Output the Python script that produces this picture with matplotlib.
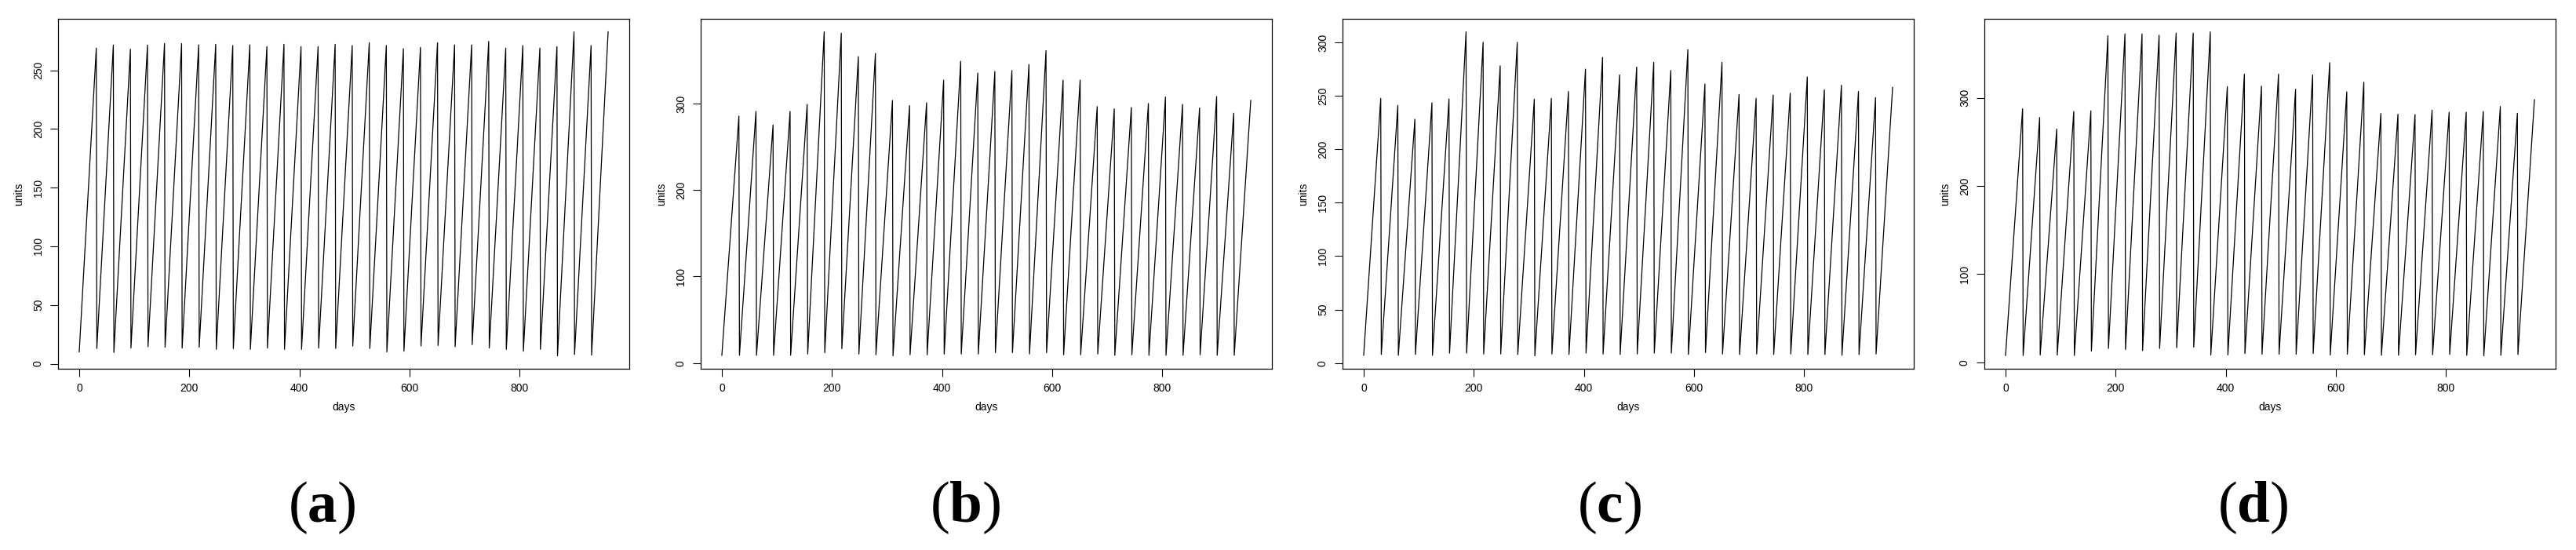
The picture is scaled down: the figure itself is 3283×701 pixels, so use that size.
import matplotlib
matplotlib.use("Agg")
import matplotlib.pyplot as plt
import numpy as np

plt.rcParams['font.family'] = ['Liberation Sans Narrow', 'Liberation Sans', 'DejaVu Sans']
plt.rcParams['mathtext.fontset'] = 'custom'
plt.rcParams['mathtext.rm'] = 'Liberation Serif'
plt.rcParams['mathtext.bf'] = 'Liberation Serif:bold'

# day of each peak (last day of each order cycle)
peak_days = [31, 62, 93, 124, 155, 186, 217, 248, 279, 310, 341, 372, 403, 434, 465, 496,
             527, 558, 589, 620, 651, 682, 713, 744, 775, 806, 837, 868, 899, 930, 961]
# first day of each cycle
start_days = [0, 32, 63, 94, 125, 156, 187, 218, 249, 280, 311, 342, 373, 404, 435, 466,
              497, 528, 559, 590, 621, 652, 683, 714, 745, 776, 807, 838, 869, 900, 931]

peaks_a = [268.9, 271.5, 268.0, 271.5, 272.8, 272.8, 271.7, 272.2, 271.1, 271.7, 270.2,
           272.2, 270.2, 270.2, 272.2, 271.1, 273.5, 271.1, 268.4, 269.5, 273.5, 271.7,
           271.7, 274.6, 268.9, 271.1, 268.9, 270.2, 282.8, 271.1, 282.8]
troughs_a = [10.0, 12.9, 9.5, 13.3, 14.4, 14.0, 13.3, 14.0, 12.2, 12.9, 12.2, 13.3, 12.2,
             12.2, 13.3, 12.9, 15.0, 12.9, 10.0, 10.6, 15.0, 15.5, 14.4, 16.2, 13.3, 12.2,
             10.6, 12.2, 6.7, 7.8, 7.3]

peaks_b = [285.5, 290.9, 275.2, 290.9, 299.0, 382.9, 381.4, 354.2, 357.9, 303.6, 297.6,
           300.9, 327.1, 348.8, 335.2, 337.0, 338.2, 345.2, 361.2, 327.1, 327.1, 296.4,
           293.9, 295.4, 300.0, 307.5, 299.0, 294.8, 308.1, 288.8, 303.6]
troughs_b = [9.0, 9.0, 9.0, 9.0, 9.0, 10.5, 12.0, 16.6, 10.5, 9.6, 8.4, 9.6, 9.6, 10.5,
             10.5, 10.5, 12.0, 12.0, 10.5, 12.0, 9.6, 9.6, 10.5, 9.0, 9.6, 9.0, 9.0, 9.0,
             9.6, 9.0, 9.0]

peaks_c = [247.6, 241.0, 228.0, 243.4, 247.0, 309.8, 300.0, 278.0, 300.0, 246.8, 247.6,
           254.0, 274.9, 285.9, 269.5, 276.8, 281.2, 273.7, 293.2, 261.0, 281.2, 251.2,
           247.6, 250.7, 252.4, 267.6, 255.6, 259.8, 254.0, 248.3, 257.8]
troughs_c = [7.3, 8.0, 7.3, 8.0, 7.3, 9.3, 9.3, 8.5, 8.5, 8.0, 6.8, 8.5, 8.0, 9.3, 8.5,
             8.0, 8.5, 9.3, 9.3, 8.0, 9.8, 8.5, 8.0, 8.5, 8.0, 8.5, 8.0, 8.0, 7.3, 8.0, 8.5]

peaks_d = [287.6, 277.8, 264.5, 284.6, 285.2, 370.4, 372.5, 372.5, 371.0, 373.4, 373.4,
           374.9, 312.7, 326.9, 313.3, 326.9, 309.8, 326.0, 339.9, 306.8, 317.8, 282.2,
           281.4, 281.1, 286.1, 283.7, 283.7, 284.6, 290.2, 282.5, 297.9]
troughs_d = [7.7, 7.7, 8.3, 8.3, 7.7, 12.7, 15.7, 14.5, 13.3, 15.7, 16.6, 17.2, 8.3, 8.3,
             10.0, 9.2, 9.2, 9.2, 10.0, 8.3, 9.2, 8.6, 8.0, 8.0, 8.6, 8.6, 8.9, 8.0, 7.4,
             8.0, 8.9]

panels = [
    ('a', peaks_a, troughs_a, [0, 50, 100, 150, 200, 250]),
    ('b', peaks_b, troughs_b, [0, 100, 200, 300]),
    ('c', peaks_c, troughs_c, [0, 50, 100, 150, 200, 250, 300]),
    ('d', peaks_d, troughs_d, [0, 100, 200, 300]),
]
x_ticks = [0, 200, 400, 600, 800]

W, H = 3283, 701
fig = plt.figure(figsize=(W / 100, H / 100), dpi=100)

box_left = [74, 893, 1711, 2529]
box_w = 728
box_top, box_bottom = 24, 470

for i, (tag, peaks, troughs, yt) in enumerate(panels):
    ax = fig.add_axes([box_left[i] / W, (H - box_bottom) / H, box_w / W, (box_bottom - box_top) / H])
    xs, ys = [], []
    for s, p, lo, hi in zip(start_days, peak_days, troughs, peaks):
        xs += [s, p]
        ys += [lo, hi]
    ax.plot(xs, ys, color='black', lw=0.9)
    ax.margins(x=0.04, y=0.04)
    ax.set_xticks(x_ticks)
    ax.set_yticks(yt)
    ax.tick_params(axis='both', length=7, width=0.8, labelsize=10, pad=6)
    for lab in ax.get_yticklabels():
        lab.set_rotation(90)
        lab.set_va('center')
    for sp in ax.spines.values():
        sp.set_linewidth(0.9)

    x0 = box_left[i]
    fig.text((x0 - 50) / W, (H - 247) / H, 'units', rotation=90, ha='center', va='center', fontsize=10)
    fig.text((x0 + box_w / 2) / W, (H - 519) / H, 'days', ha='center', va='center', fontsize=10)
    fig.text((410 + i * 820.5) / W, (H - 665) / H, r'$(\mathbf{%s})$' % tag,
             ha='center', va='baseline', fontsize=54)

fig.savefig('out.png', dpi=100)
